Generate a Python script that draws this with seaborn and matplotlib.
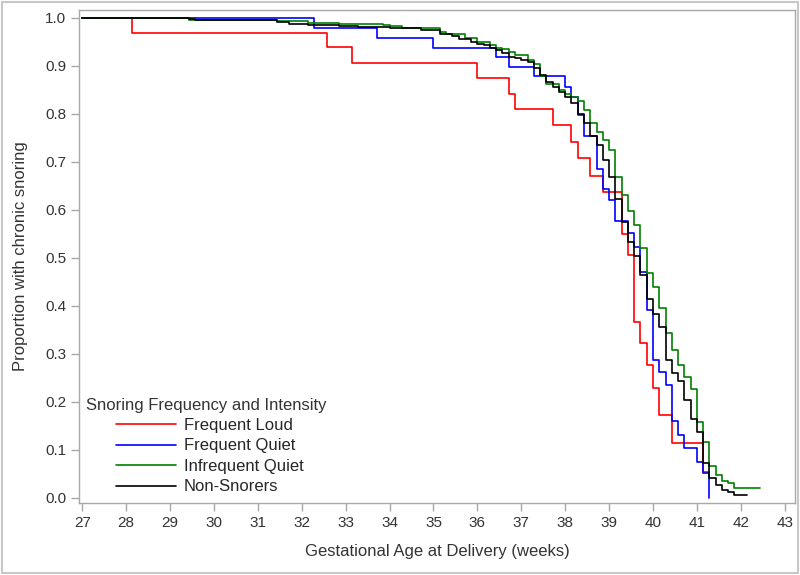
import matplotlib
matplotlib.use("Agg")
import matplotlib.pyplot as plt
import matplotlib.patches as mpatches
import seaborn as sns
import numpy as np
import pandas as pd

# Kaplan-Meier style step curves.
# time = days after 27+0 weeks, value = proportion still snoring
groups = ["Frequent Loud", "Frequent Quiet", "Infrequent Quiet", "Non-Snorers"]
colors = {"Frequent Loud": "#ff0000", "Frequent Quiet": "#0000ff",
          "Infrequent Quiet": "#008000", "Non-Snorers": "#000000"}

loud_day = [0, 8, 39, 43, 63, 68, 69, 75, 78, 79, 81, 83, 86, 87, 88, 89, 90, 91, 92, 94, 99, 100]
loud_val = [1.0, 0.969, 0.94, 0.906, 0.875, 0.842, 0.81, 0.777, 0.742, 0.708, 0.67, 0.638,
            0.55, 0.505, 0.367, 0.323, 0.277, 0.229, 0.173, 0.115, 0.054, 0.054]

quiet_day = [0, 37, 47, 56, 66, 68, 72, 77, 78, 79, 80, 82, 83, 84, 85, 87, 88, 89, 90, 91,
             92, 93, 94, 95, 96, 98, 99, 100]
quiet_val = [1.0, 0.98, 0.958, 0.937, 0.918, 0.897, 0.879, 0.857, 0.836, 0.798, 0.754, 0.686,
             0.644, 0.62, 0.577, 0.551, 0.523, 0.47, 0.392, 0.287, 0.262, 0.235, 0.159, 0.131,
             0.103, 0.075, 0.051, 0.0]

infreq_day = [0, 17, 31, 36, 41, 48, 49, 51, 57, 58, 61, 63, 65, 66, 67, 68, 69, 71, 72, 73,
              74, 76, 77, 78, 79, 80, 81, 82, 83, 84, 85, 86, 87, 88, 89, 90, 91, 92, 93, 94,
              95, 96, 97, 98, 99, 100, 101, 102, 103, 104, 108]
infreq_val = [1.0, 0.996, 0.993, 0.99, 0.987, 0.985, 0.983, 0.98, 0.971, 0.967, 0.958, 0.95,
              0.944, 0.938, 0.935, 0.929, 0.922, 0.913, 0.905, 0.88, 0.863, 0.85, 0.842, 0.835,
              0.826, 0.808, 0.78, 0.763, 0.745, 0.724, 0.669, 0.63, 0.598, 0.568, 0.52, 0.468,
              0.44, 0.396, 0.343, 0.307, 0.277, 0.251, 0.226, 0.158, 0.117, 0.067, 0.048,
              0.035, 0.031, 0.02, 0.02]

non_day = [0, 17, 18, 31, 33, 36, 41, 44, 49, 54, 57, 59, 60, 62, 63, 64, 65, 66, 67, 68, 69,
           70, 71, 72, 73, 74, 75, 76, 77, 78, 79, 80, 81, 82, 83, 84, 85, 86, 87, 88, 89, 90,
           91, 92, 93, 94, 95, 96, 97, 98, 99, 100, 101, 102, 103, 104, 106]
non_val = [1.0, 0.998, 0.995, 0.992, 0.988, 0.986, 0.983, 0.981, 0.978, 0.975, 0.967, 0.963,
           0.957, 0.95, 0.946, 0.943, 0.938, 0.933, 0.926, 0.919, 0.916, 0.912, 0.909, 0.895,
           0.881, 0.867, 0.857, 0.846, 0.836, 0.822, 0.8, 0.78, 0.754, 0.735, 0.704, 0.668,
           0.622, 0.575, 0.533, 0.503, 0.464, 0.415, 0.384, 0.356, 0.287, 0.259, 0.244, 0.204,
           0.164, 0.138, 0.072, 0.041, 0.027, 0.017, 0.011, 0.006, 0.006]

days = [loud_day, quiet_day, infreq_day, non_day]
vals = [loud_val, quiet_val, infreq_val, non_val]

frames = []
for g, d, v in zip(groups, days, vals):
    frames.append(pd.DataFrame({"group": g, "weeks": 27 + np.array(d) / 7.0, "surv": v}))
df = pd.concat(frames, ignore_index=True)

sns.set_theme(style="white")
plt.rcParams["font.family"] = ["Liberation Sans", "DejaVu Sans"]

fig = plt.figure(figsize=(8, 5.75), dpi=100)
ax = fig.add_axes([0.099, 0.126, 0.895, 0.857])

sns.lineplot(data=df, x="weeks", y="surv", hue="group", hue_order=groups, palette=colors,
             estimator=None, units="group", drawstyle="steps-post", linewidth=1.2, ax=ax)

ax.set_xlim(26.93, 43.24)
ax.set_ylim(-0.01, 1.017)
ax.set_xticks(range(27, 44))
ax.set_yticks(np.arange(0, 1.01, 0.1))
ax.yaxis.set_major_formatter(matplotlib.ticker.FormatStrFormatter("%.1f"))
ax.set_xlabel("Gestational Age at Delivery (weeks)", fontsize=12, color="#333333", labelpad=10)
ax.set_ylabel("Proportion with chronic snoring", fontsize=12, color="#333333", labelpad=12)
ax.tick_params(axis="both", direction="out", length=6, width=1, color="#a8a8a8",
               labelsize=11, labelcolor="#333333", bottom=True, left=True)
for s in ax.spines.values():
    s.set_color("#a8a8a8")
    s.set_linewidth(1)

handles, labels = ax.get_legend_handles_labels()
ax.legend(handles, labels, loc="lower left", bbox_to_anchor=(0.03, -0.014), frameon=False,
          fontsize=12, handlelength=3.6, handletextpad=0.5, labelspacing=0.33)
ax.text(0.009, 0.197, "Snoring Frequency and Intensity", transform=ax.transAxes,
        fontsize=12, color="#333333", va="center", ha="left")

fig.patches.append(mpatches.Rectangle((0.003, 0.003), 0.994, 0.994, transform=fig.transFigure,
                                      fill=False, edgecolor="#c8c8c8", linewidth=1.5))

fig.savefig("out.png", dpi=100)
